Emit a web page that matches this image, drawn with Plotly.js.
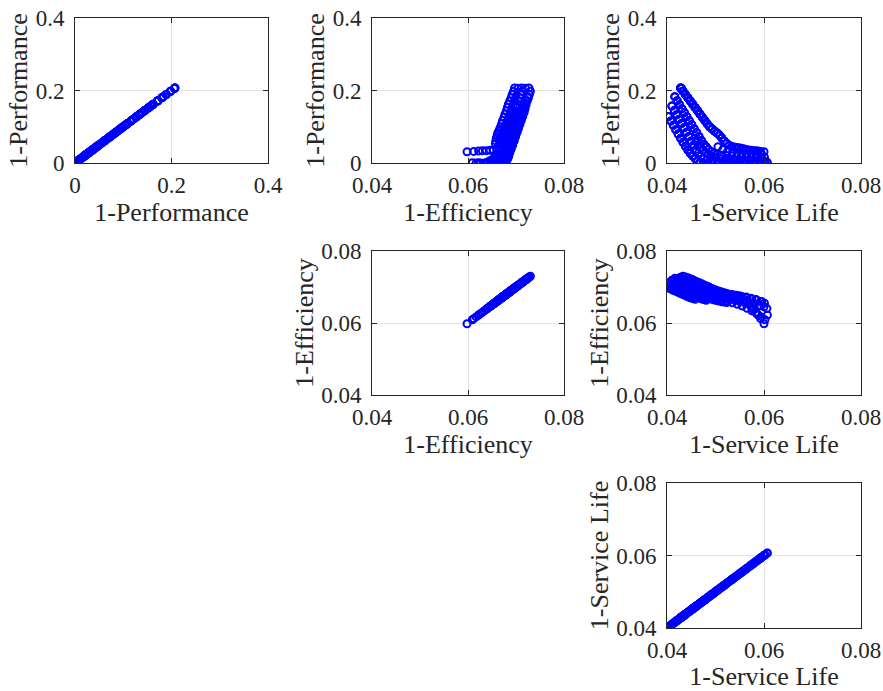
<!DOCTYPE html>
<html>
<head>
<meta charset="utf-8">
<script src="https://cdn.plot.ly/plotly-3.0.1.min.js"></script>
<style>html,body{margin:0;padding:0;background:#fff;}#chart{width:883px;height:691px;}</style>
</head>
<body>
<div id="chart"></div>
<script>
// Objective values (one entry per solution, same order in all three arrays)
const life = [
  // band D
  0.0428,0.0433,0.0438,0.0443,0.0448,0.0453,0.0458,0.0463,0.0468,0.0473,0.0478,0.0483,0.0488,0.0493,0.0498,0.0503,0.0508,0.0513,0.0518,0.0523,0.0528,0.0533,0.0538,0.0543,0.0548,0.0553,0.0558,0.0563,0.0568,0.0573,0.0578,0.0583,0.0588,0.0593,0.0600,
  0.0428,0.0433,0.0438,0.0443,0.0448,0.0453,0.0458,0.0463,0.0468,0.0473,0.0478,0.0483,0.0488,0.0493,0.0498,0.0503,0.0430,0.0430,
  0.0428,0.0433,0.0438,0.0443,0.0448,0.0453,0.0458,0.0463,0.0468,0.0473,0.0478,0.0483,0.0488,0.0493,0.0498,0.0503,0.0508,0.0513,0.0518,0.0523,
  // band C
  0.0416,0.0421,0.0426,0.0431,0.0436,0.0441,0.0446,0.0451,0.0456,0.0461,0.0466,0.0471,0.0476,0.0481,0.0486,0.0491,0.0496,0.0503,0.0513,0.0523,0.0533,0.0543,0.0553,0.0563,0.0573,0.0583,0.0593,0.0601,
  0.0416,0.0421,0.0426,0.0431,0.0436,0.0441,0.0446,0.0451,0.0456,0.0461,0.0466,0.0471,0.0476,0.0481,
  // band B
  0.0410,0.0415,0.0420,0.0425,0.0430,0.0435,0.0440,0.0445,0.0450,0.0455,0.0460,0.0465,0.0470,0.0476,0.0483,0.0493,0.0503,0.0518,0.0533,0.0548,0.0563,0.0578,0.0593,0.0606,
  0.0410,0.0415,0.0420,0.0425,0.0430,0.0435,0.0440,0.0445,0.0450,0.0455,
  // band A
  0.0403,0.0408,0.0413,0.0418,0.0423,0.0428,0.0433,0.0438,0.0443,0.0448,0.0453,0.0458,0.0463,0.0468,0.0475,0.0485,0.0495,0.0505,0.0515,0.0525,0.0535,0.0545,0.0555,0.0565,0.0575,0.0585,0.0595,0.0602,0.0607,
  0.0403,0.0408,0.0413,0.0418,0.0423,0.0428,0.0433,0.0438,0.0443,0.0448,0.0453,0.0458,
  // points between the bands
  0.0460,0.0465,0.0470,0.0475,0.0480,0.0485,0.0490,0.0500,0.0510,0.0520,0.0530,0.0540,0.0550,0.0560,0.0570,0.0580,0.0590,0.0600,
  0.0505,0.0515,0.0525,0.0535,0.0545,0.0555,0.0565,0.0575,0.0585,0.0595
];
const perf = [
  0.207,0.198,0.189,0.180,0.171,0.162,0.153,0.144,0.135,0.126,0.117,0.108,0.100,0.094,0.088,0.083,0.077,0.069,0.061,0.054,0.049,0.046,0.044,0.043,0.042,0.041,0.039,0.037,0.036,0.035,0.034,0.034,0.033,0.032,0.031,
  0.207,0.198,0.189,0.180,0.171,0.162,0.153,0.144,0.135,0.126,0.117,0.108,0.100,0.094,0.088,0.083,0.206,0.206,
  0.207,0.198,0.189,0.180,0.171,0.162,0.153,0.144,0.135,0.126,0.117,0.108,0.100,0.094,0.088,0.083,0.077,0.069,0.061,0.054,
  0.183,0.172,0.161,0.150,0.139,0.128,0.117,0.106,0.095,0.084,0.073,0.062,0.052,0.044,0.037,0.031,0.027,0.024,0.022,0.021,0.020,0.019,0.019,0.018,0.018,0.017,0.017,0.016,
  0.183,0.172,0.161,0.150,0.139,0.128,0.117,0.106,0.095,0.084,0.073,0.062,0.052,0.044,
  0.157,0.145,0.133,0.121,0.109,0.097,0.085,0.073,0.061,0.049,0.038,0.028,0.019,0.012,0.008,0.006,0.005,0.004,0.004,0.003,0.003,0.002,0.002,0.002,
  0.157,0.145,0.133,0.121,0.109,0.097,0.085,0.073,0.061,0.049,
  0.128,0.116,0.104,0.092,0.080,0.068,0.057,0.046,0.036,0.027,0.019,0.012,0.006,0.003,0.001,0,0,0,0,0,0,0,0,0,0,0,0,0.001,0.001,
  0.128,0.116,0.104,0.092,0.080,0.068,0.057,0.046,0.036,0.027,0.019,0.012,
  0.060,0.050,0.042,0.035,0.029,0.024,0.020,0.015,0.012,0.010,0.009,0.008,0.008,0.007,0.007,0.006,0.006,0.006,
  0.045,0.037,0.032,0.029,0.027,0.026,0.025,0.025,0.024,0.024
];
const eff = [
  0.0727,0.0730,0.0728,0.0726,0.0723,0.0720,0.0717,0.0714,0.0711,0.0708,0.0705,0.0702,0.0699,0.0696,0.0693,0.0690,0.0688,0.0686,0.0684,0.0682,0.0680,0.0679,0.0678,0.0677,0.0676,0.0672,0.0666,0.0660,0.0653,0.0646,0.0638,0.0630,0.0622,0.0612,0.0598,
  0.0712,0.0713,0.0710,0.0708,0.0705,0.0702,0.0700,0.0697,0.0694,0.0691,0.0688,0.0686,0.0683,0.0681,0.0678,0.0676,0.0720,0.0704,
  0.0697,0.0695,0.0692,0.0690,0.0687,0.0684,0.0682,0.0680,0.0677,0.0675,0.0672,0.0670,0.0668,0.0666,0.0664,0.0662,0.0661,0.0659,0.0658,0.0657,
  0.0724,0.0723,0.0721,0.0719,0.0717,0.0714,0.0711,0.0708,0.0705,0.0702,0.0699,0.0696,0.0693,0.0690,0.0688,0.0686,0.0684,0.0682,0.0680,0.0678,0.0676,0.0675,0.0674,0.0672,0.0669,0.0665,0.0660,0.0655,
  0.0700,0.0697,0.0694,0.0691,0.0688,0.0685,0.0682,0.0679,0.0676,0.0673,0.0670,0.0667,0.0665,0.0663,
  0.0719,0.0717,0.0714,0.0711,0.0708,0.0705,0.0702,0.0699,0.0696,0.0693,0.0690,0.0687,0.0685,0.0683,0.0681,0.0679,0.0677,0.0674,0.0670,0.0666,0.0661,0.0655,0.0648,0.0640,
  0.0699,0.0696,0.0693,0.0690,0.0687,0.0684,0.0681,0.0678,0.0675,0.0672,
  0.0712,0.0709,0.0706,0.0703,0.0700,0.0697,0.0694,0.0691,0.0688,0.0685,0.0682,0.0680,0.0678,0.0676,0.0674,0.0671,0.0668,0.0665,0.0662,0.0659,0.0656,0.0652,0.0647,0.0641,0.0634,0.0626,0.0617,0.0609,0.0622,
  0.0697,0.0694,0.0691,0.0688,0.0685,0.0682,0.0679,0.0676,0.0673,0.0670,0.0668,0.0666,
  0.0692,0.0689,0.0686,0.0684,0.0682,0.0680,0.0678,0.0675,0.0672,0.0669,0.0666,0.0663,0.0660,0.0657,0.0654,0.0651,0.0648,0.0645,
  0.0684,0.0681,0.0678,0.0676,0.0674,0.0672,0.0670,0.0667,0.0664,0.0660
];

const perfTicks = [0, 0.2, 0.4];
const perfTickText = ['0', '0.2', '0.4'];
const effTicks = [0.04, 0.06, 0.08];
const effTickText = ['0.04', '0.06', '0.08'];
const lifeTicks = [0.04, 0.06, 0.08];
const lifeTickText = ['0.04', '0.06', '0.08'];

const labels = {perf: '1-Performance', eff: '1-Efficiency', life: '1-Service Life'};
const values = {perf: perf, eff: eff, life: life};
const ticks = {
  perf: {vals: perfTicks, text: perfTickText, range: [0, 0.4]},
  eff: {vals: effTicks, text: effTickText, range: [0.04, 0.08]},
  life: {vals: lifeTicks, text: lifeTickText, range: [0.04, 0.08]}
};

// panels: [x variable, y variable, column, row]
const panels = [
  ['perf', 'perf', 0, 0],
  ['eff', 'perf', 1, 0],
  ['life', 'perf', 2, 0],
  ['eff', 'eff', 1, 1],
  ['life', 'eff', 2, 1],
  ['life', 'life', 2, 2]
];

const W = 883, H = 691;
const M = {l: 75, r: 22, t: 18, b: 63};
const PW = W - M.l - M.r, PH = H - M.t - M.b;
const colPx = [[75, 268], [372, 564], [667, 861]];
const rowPx = [[18, 163], [251, 395], [483, 628]];
const FONT = 'Liberation Serif';
const INK = '#262626';

const traces = [];
const layout = {
  width: W, height: H,
  margin: M,
  paper_bgcolor: '#ffffff',
  plot_bgcolor: '#ffffff',
  showlegend: false,
  font: {family: FONT, color: INK, size: 23}
};

function axisBase(v) {
  return {
    range: ticks[v].range,
    tickmode: 'array',
    tickvals: ticks[v].vals,
    ticktext: ticks[v].text,
    showline: true, linecolor: INK, linewidth: 1,
    mirror: 'allticks',
    ticks: 'inside', ticklen: 5, tickwidth: 1, tickcolor: INK,
    showgrid: true, gridcolor: '#e3e3e3', gridwidth: 1,
    zeroline: false,
    tickfont: {family: FONT, size: 23, color: INK},
    automargin: false,
    fixedrange: true
  };
}

panels.forEach((p, i) => {
  const n = i + 1;
  const sfx = n === 1 ? '' : String(n);
  const [xv, yv, c, r] = p;
  traces.push({
    type: 'scatter', mode: 'markers',
    x: values[xv], y: values[yv],
    xaxis: 'x' + sfx, yaxis: 'y' + sfx,
    marker: {symbol: 'circle-open', size: 7, color: '#0000ff', line: {width: 2, color: '#0000ff'}},
    hoverinfo: 'skip'
  });
  const xd = [(colPx[c][0] - M.l) / PW, (colPx[c][1] - M.l) / PW];
  const yd = [(H - M.b - rowPx[r][1]) / PH, (H - M.b - rowPx[r][0]) / PH];
  layout['xaxis' + sfx] = Object.assign(axisBase(xv), {
    domain: xd, anchor: 'y' + sfx,
    ticklabelstandoff: 1,
    title: {text: labels[xv], font: {family: FONT, size: 26, color: INK}, standoff: 0}
  });
  layout['yaxis' + sfx] = Object.assign(axisBase(yv), {
    domain: yd, anchor: 'x' + sfx,
    ticklabelstandoff: 5,
    title: {text: labels[yv], font: {family: FONT, size: 26, color: INK}, standoff: 0}
  });
});

Plotly.newPlot('chart', traces, layout, {staticPlot: true, displayModeBar: false});
</script>
</body>
</html>
